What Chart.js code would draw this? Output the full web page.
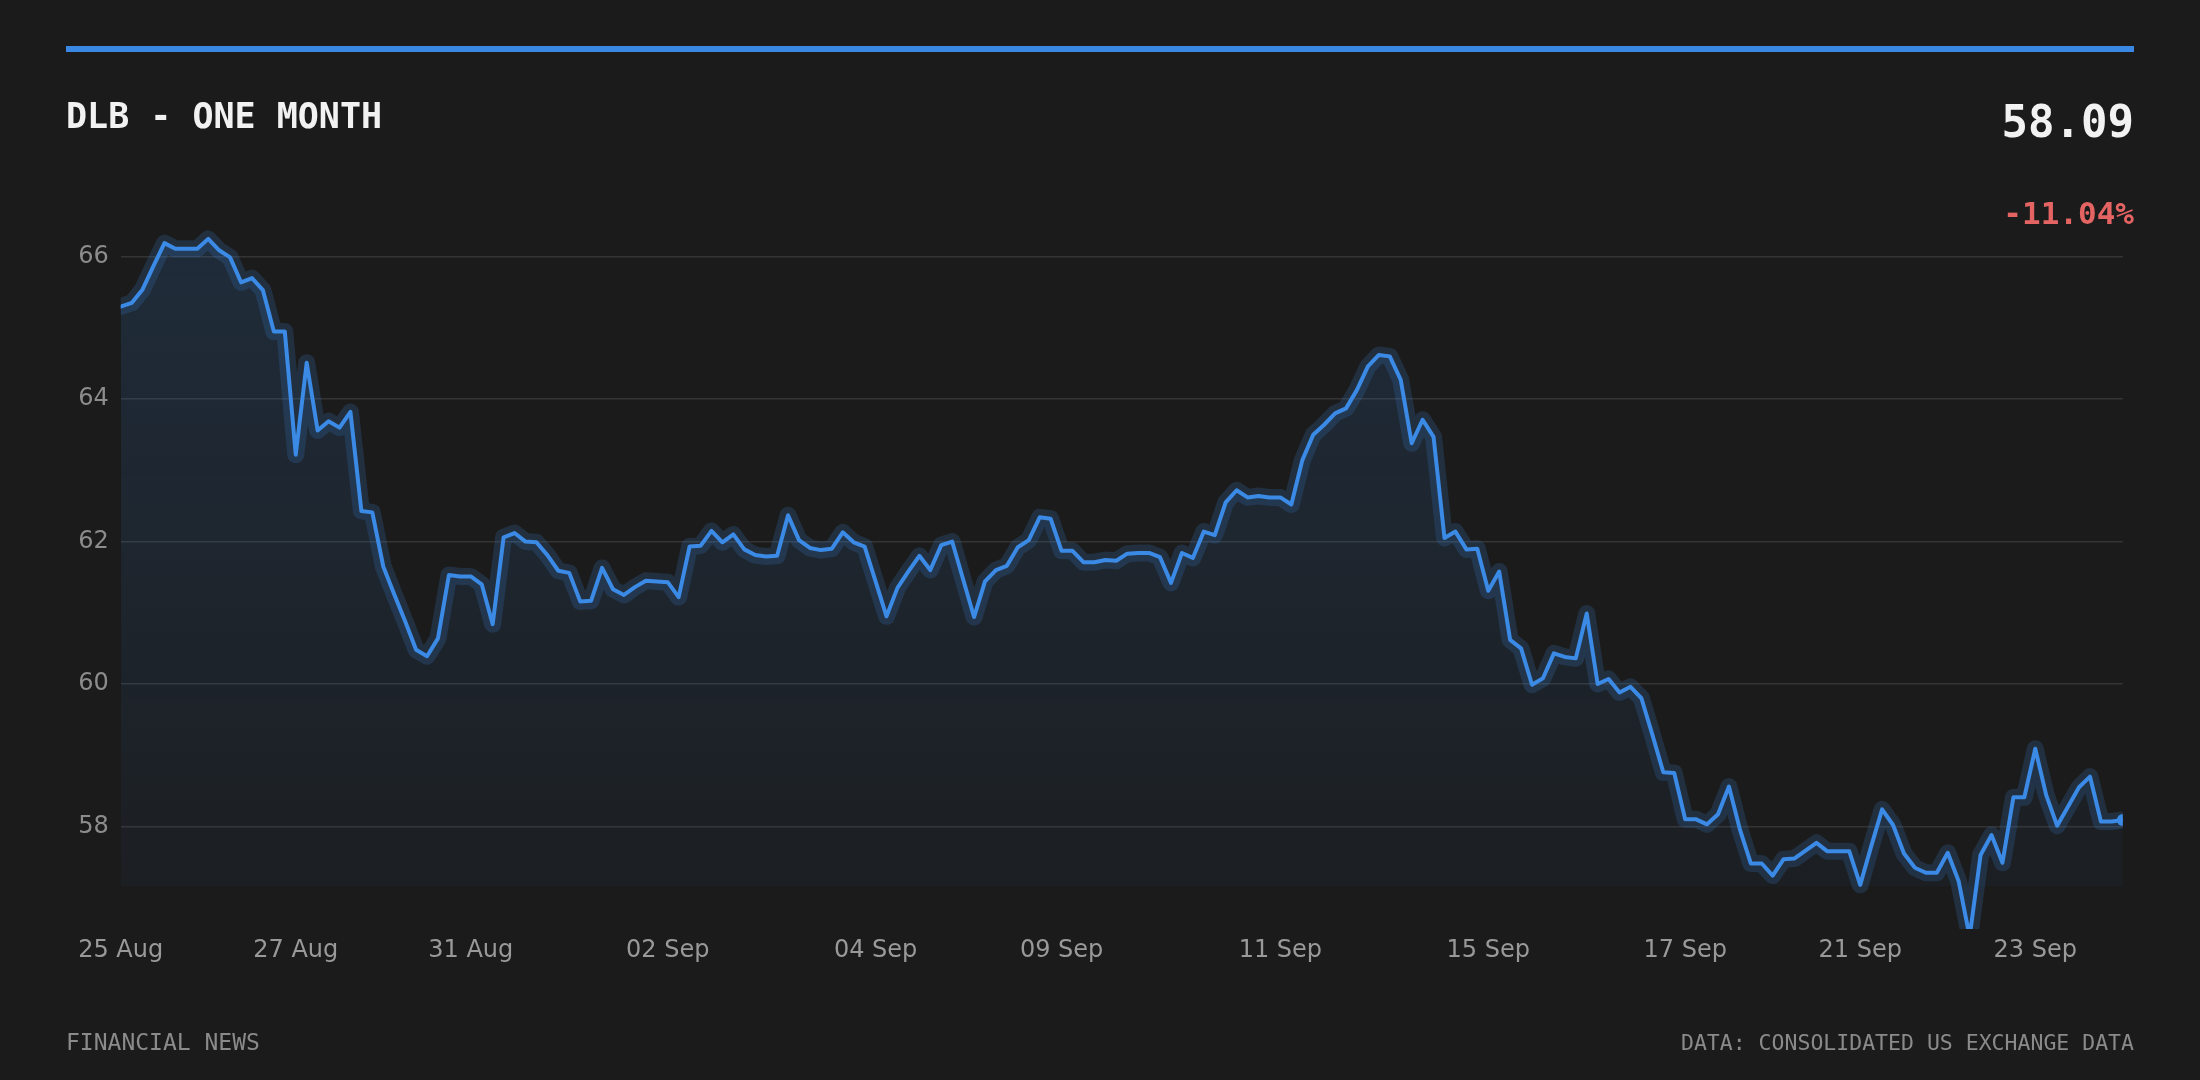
<!DOCTYPE html>
<html>
<head>
<meta charset="utf-8">
<script src="https://cdn.jsdelivr.net/npm/chart.js@4.4.1/dist/chart.umd.min.js"></script>
<style>
  html, body { margin: 0; padding: 0; background: #1b1b1b; }
  #wrap { position: relative; width: 2200px; height: 1080px; overflow: hidden; }
  #wrap canvas { position: absolute; left: 0; top: 0; }
  .bar { position: absolute; left: 66px; top: 46px; width: 2068px; height: 6px; background: #3a88e4; }
  .txt { position: absolute; font-family: "DejaVu Sans Mono", monospace; line-height: 1; white-space: nowrap; }
</style>
</head>
<body>
<div id="wrap">
  <canvas id="chart"></canvas>
  <div class="bar"></div>
  <div class="txt" style="left:66px; top:99px; font-size:35px; font-weight:bold; color:#f2f2f2;">DLB - ONE MONTH</div>
  <div class="txt" style="right:66px; top:100px; font-size:44px; font-weight:bold; color:#f2f2f2;">58.09</div>
  <div class="txt" style="right:66px; top:198px; font-size:31px; font-weight:bold; color:#e46464;">-11.04%</div>
  <div class="txt" style="left:66px; top:1031px; font-size:23px; color:#8a8a8a;">FINANCIAL NEWS</div>
  <div class="txt" style="right:66px; top:1032px; font-size:21.5px; color:#8a8a8a;">DATA: CONSOLIDATED US EXCHANGE DATA</div>
</div>
<script>
// closing prices, one point per trading interval (25 Aug - 24 Sep)
const prices = [
  65.30, 65.35, 65.54, 65.87, 66.19, 66.11, 66.11, 66.11, 66.25, 66.09,
  65.99, 65.64, 65.70, 65.53, 64.95, 64.95, 63.22, 64.51, 63.56, 63.69,
  63.60, 63.82, 62.43, 62.41, 61.65, 61.26, 60.88, 60.48, 60.39, 60.64,
  61.53, 61.51, 61.51, 61.40, 60.84, 62.06, 62.12, 62.00, 61.99, 61.81,
  61.59, 61.56, 61.16, 61.17, 61.63, 61.33, 61.25, 61.36, 61.45, 61.44,
  61.43, 61.22, 61.93, 61.94, 62.15, 61.99, 62.10, 61.89, 61.81, 61.79,
  61.80, 62.37, 62.02, 61.91, 61.88, 61.90, 62.13, 61.99, 61.93, 61.44,
  60.95, 61.35, 61.58, 61.80, 61.60, 61.95, 62.00, 61.47, 60.94, 61.44,
  61.60, 61.66, 61.92, 62.02, 62.34, 62.32, 61.87, 61.87, 61.71, 61.71,
  61.74, 61.73, 61.83, 61.84, 61.84, 61.78, 61.42, 61.84, 61.77, 62.14,
  62.09, 62.55, 62.72, 62.62, 62.64, 62.62, 62.62, 62.52, 63.14, 63.50,
  63.64, 63.80, 63.87, 64.13, 64.46, 64.62, 64.60, 64.27, 63.38, 63.71,
  63.47, 62.05, 62.14, 61.89, 61.90, 61.31, 61.58, 60.62, 60.50, 59.99,
  60.08, 60.43, 60.38, 60.36, 60.99, 60.00, 60.07, 59.88, 59.96, 59.80,
  59.29, 58.76, 58.75, 58.10, 58.10, 58.03, 58.17, 58.56, 57.96, 57.48,
  57.48, 57.31, 57.54, 57.55, 57.66, 57.77, 57.65, 57.65, 57.65, 57.18,
  57.72, 58.24, 58.02, 57.62, 57.42, 57.35, 57.35, 57.63, 57.23, 56.45,
  57.60, 57.88, 57.49, 58.41, 58.41, 59.09, 58.44, 58.01, 58.28, 58.55,
  58.70, 58.07, 58.07, 58.09
];

// which points carry a date label on the x axis
const tickIndex = [0, 16, 32, 50, 69, 86, 106, 125, 143, 159, 175];
const tickLabels = ['25 Aug', '27 Aug', '31 Aug', '02 Sep', '04 Sep', '09 Sep',
                    '11 Sep', '15 Sep', '17 Sep', '21 Sep', '23 Sep'];

const yTicks = [58, 60, 62, 64, 66];
const yMin = 56.56, yMax = 66.8;
const fillBase = 57.16;

const labels = prices.map((_, i) => {
  const k = tickIndex.indexOf(i);
  return k >= 0 ? tickLabels[k] : '';
});

const blue = '#3b8ae6';

new Chart(document.getElementById('chart'), {
  type: 'line',
  data: {
    labels,
    datasets: [
      {
        data: prices,
        borderColor: blue,
        borderWidth: 4,
        borderJoinStyle: 'round',
        borderCapStyle: 'round',
        tension: 0,
        clip: 0,
        pointRadius: prices.map((_, i) => i === prices.length - 1 ? 6 : 0),
        pointBackgroundColor: blue,
        pointBorderWidth: 0,
        fill: { value: fillBase },
        backgroundColor: (ctx) => {
          const { ctx: c, chartArea, scales } = ctx.chart;
          if (!chartArea) return 'transparent';
          const g = c.createLinearGradient(0, chartArea.top, 0, scales.y.getPixelForValue(fillBase));
          g.addColorStop(0, 'rgba(59,138,230,0.16)');
          g.addColorStop(1, 'rgba(59,138,230,0.04)');
          return g;
        }
      },
      {
        // soft glow under the line
        data: prices,
        borderColor: 'rgba(59,138,230,0.18)',
        borderWidth: 17,
        borderJoinStyle: 'round',
        borderCapStyle: 'round',
        tension: 0,
        clip: 0,
        pointRadius: 0,
        fill: false
      }
    ]
  },
  options: {
    responsive: true,
    maintainAspectRatio: false,
    animation: false,
    layout: { padding: { left: 66, right: 77.2, top: 199.7, bottom: 0 } },
    plugins: {
      legend: { display: false },
      tooltip: { enabled: false },
      filler: { drawTime: 'beforeDatasetsDraw' }
    },
    scales: {
      x: {
        type: 'category',
        grid: { display: false, drawTicks: false },
        border: { display: false },
        ticks: {
          autoSkip: false,
          maxRotation: 0,
          padding: 7,
          color: '#999999',
          font: { family: 'DejaVu Sans', size: 24 }
        },
        afterFit: (s) => { s.height = 151; }
      },
      y: {
        min: yMin,
        max: yMax,
        grid: { color: 'rgba(255,255,255,0.11)', lineWidth: 1.5, drawTicks: false },
        border: { display: false },
        ticks: {
          padding: 12,
          color: '#8c8c8c',
          font: { family: 'DejaVu Sans', size: 24 }
        },
        afterBuildTicks: (s) => { s.ticks = yTicks.map(v => ({ value: v })); },
        afterFit: (s) => { s.width = 54.7; }
      }
    }
  }
});
</script>
</body>
</html>
